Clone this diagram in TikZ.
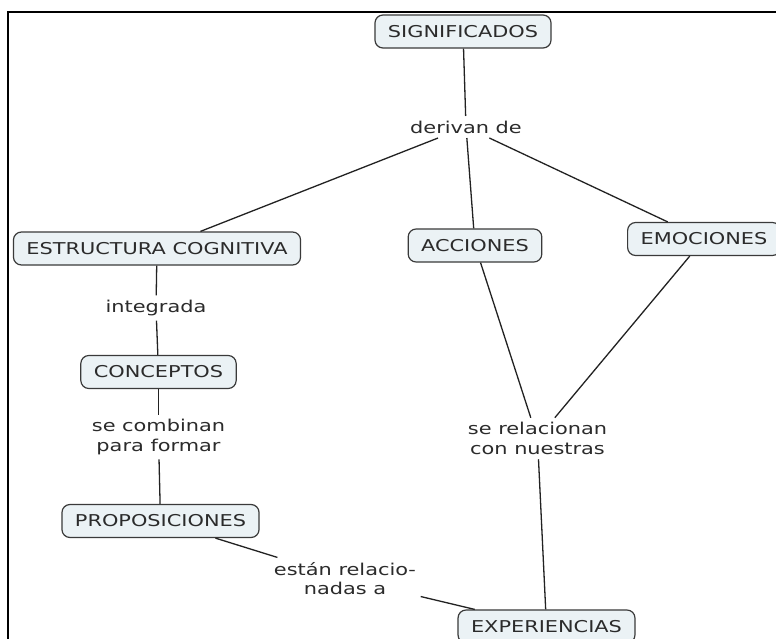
\documentclass[tikz,border=0pt]{standalone}
\usepackage{fontspec}
\setmainfont{DejaVu Sans}[FakeStretch=1.28]
\definecolor{boxfill}{HTML}{EBF2F5}
\definecolor{boxline}{HTML}{3A3A3A}
\definecolor{inktext}{HTML}{2B2B2B}
\definecolor{linkline}{HTML}{222222}
\begin{document}
\begin{tikzpicture}[x=1pt,y=-1pt,
  every node/.style={text=inktext,font=\fontsize{16.3}{19.5}\selectfont},
  concept/.style={draw=boxline,fill=boxfill,line width=1.2pt,rounded corners=8pt,
    inner xsep=13pt,minimum height=33pt},
  linklabel/.style={align=center,inner sep=4.5pt},
  link/.style={draw=linkline,line width=1.3pt}]
\useasboundingbox (0,0) rectangle (776,639);
\fill[white] (0,0) rectangle (776,639);
% frame along the top and left edges
\draw[line width=2pt,black] (7.5,639) -- (7.5,12.5) -- (776,12.5);

% concepts
\node[concept] (sig) at (463,31.5) {SIGNIFICADOS};
\node[concept] (est) at (157,248.5) {ESTRUCTURA COGNITIVA};
\node[concept] (acc) at (475,245.5) {ACCIONES};
\node[concept] (emo) at (704,239) {EMOCIONES};
\node[concept] (con) at (158.5,372) {CONCEPTOS};
\node[concept] (pro) at (160.5,521) {PROPOSICIONES};
\node[concept] (exp) at (546.5,626.5) {EXPERIENCIAS};

% linking phrases
\node[linklabel] (der) at (466,127) {derivan de};
\node[linklabel] (int) at (156,308) {integrada};
\node[linklabel] (com) at (158.5,437) {se combinan\\para formar};
\node[linklabel] (rel) at (537.5,438.5) {se relacionan\\con nuestras};
\node[linklabel] (rla) at (345,578.5) {están relacio-\\nadas a};

% connectors
\path[link] (sig) -- (der);
\path[link] (der) -- (est);
\path[link] (der) -- (acc);
\path[link] (der) -- (emo);
\path[link] (est) -- (int);
\path[link] (int) -- (con);
\path[link] (con) -- (com);
\path[link] (com) -- (pro);
\path[link] (pro) -- (rla);
\path[link] (rla) -- (exp);
\path[link] (acc) -- (rel);
\path[link] (emo) -- (rel);
\path[link] (rel) -- (exp);
\end{tikzpicture}
\end{document}
